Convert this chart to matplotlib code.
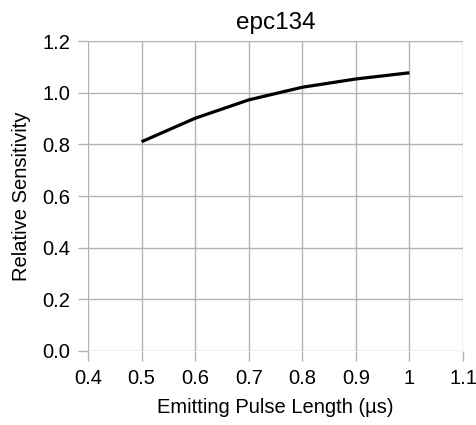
import matplotlib.pyplot as plt

plt.rcParams['font.family'] = ['Liberation Sans', 'DejaVu Sans']

pulse_length = [0.5, 0.6, 0.7, 0.8, 0.9, 1.0]
sensitivity = [0.810, 0.901, 0.972, 1.021, 1.053, 1.077]
x_ticks = [0.4, 0.5, 0.6, 0.7, 0.8, 0.9, 1.0, 1.1]
x_tick_labels = ['0.4', '0.5', '0.6', '0.7', '0.8', '0.9', '1', '1.1']
y_ticks = [0.0, 0.2, 0.4, 0.6, 0.8, 1.0, 1.2]

fig = plt.figure(figsize=(4.77, 4.25), dpi=100)
ax = fig.add_axes([88 / 477, 1 - 351 / 425, (463 - 88) / 477, (351 - 41) / 425])

ax.plot(pulse_length, sensitivity, color='black', linewidth=2.3,
        solid_capstyle='butt', zorder=3)

ax.set_xlim(0.4, 1.1)
ax.set_ylim(0.0, 1.2)
ax.set_xticks(x_ticks)
ax.set_xticklabels(x_tick_labels)
ax.set_yticks(y_ticks)
ax.set_yticklabels([f'{v:.1f}' for v in y_ticks])

ax.grid(True, color='#b3b3b3', linewidth=1.0)
for s in ax.spines.values():
    s.set_visible(False)
ax.tick_params(axis='both', color='#b3b3b3', length=7, width=1.0,
               labelsize=14.5, pad=6, labelcolor='black')

ax.set_title('epc134', fontsize=17.5, pad=9)
ax.set_xlabel('Emitting Pulse Length (µs)', fontsize=14.5, labelpad=7)
ax.set_ylabel('Relative Sensitivity', fontsize=14.5, labelpad=8)

fig.savefig('out.png', dpi=100)
